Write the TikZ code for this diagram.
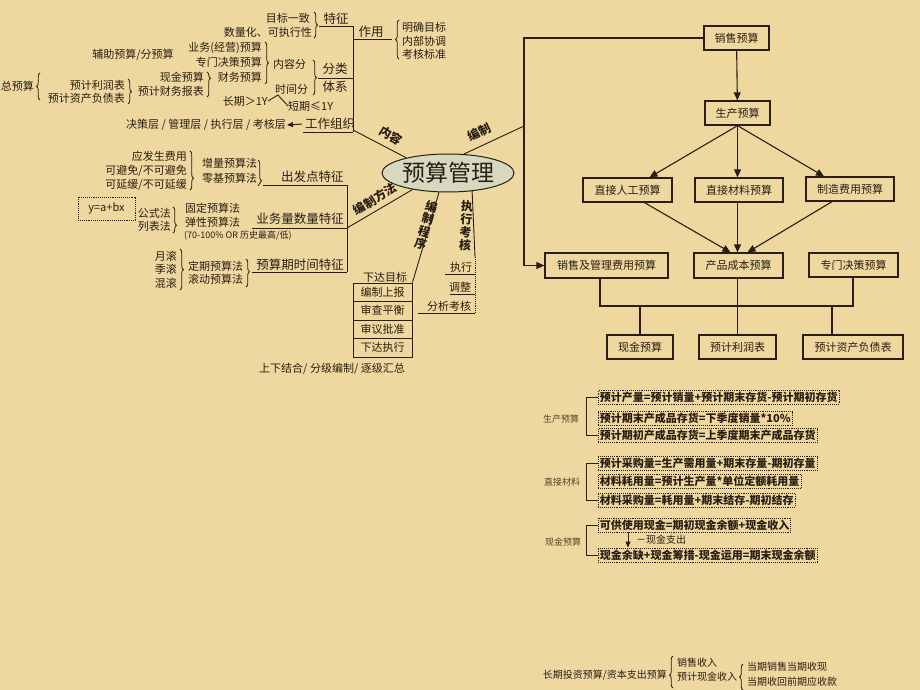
\documentclass[tikz,border=0pt]{standalone}
\usepackage{fontspec}
\setmainfont{Noto Sans CJK SC}
\usetikzlibrary{arrows.meta,decorations.pathreplacing,shapes.geometric}
\definecolor{bg}{RGB}{239,215,160}
\definecolor{ink}{RGB}{40,30,20}
\definecolor{ellfill}{RGB}{214,216,192}
\definecolor{soft}{RGB}{85,65,45}
\begin{document}
\begin{tikzpicture}[x=1pt,y=-1pt,
 every node/.style={inner sep=0pt, text=ink},
 t/.style={font=\fontsize{11}{12}\selectfont},
 ts/.style={font=\fontsize{10}{11}\selectfont},
 tx/.style={font=\fontsize{9}{10}\selectfont},
 hd/.style={font=\fontsize{12.5}{14}\selectfont},
 bl/.style={font=\bfseries\fontsize{12}{13}\selectfont},
 ln/.style={draw=ink, line width=0.9pt},
 brc/.style={draw=ink, line width=0.8pt, decorate, decoration={brace,amplitude=3.5pt,aspect=#1}},
 brc/.default=0.5,
 fbox/.style={draw=ink, line width=1.3pt, font=\fontsize{11}{12}\selectfont, minimum height=24pt},
 pbox/.style={draw=ink, line width=0.9pt, minimum width=59pt, minimum height=18.5pt, font=\fontsize{11}{12}\selectfont},
 arr/.style={draw=ink, line width=1.1pt, -{Triangle[length=8pt,width=7pt]}},
 fm/.style={draw=ink, line width=0.9pt, densely dotted, font=\bfseries\fontsize{11}{12}\selectfont, inner xsep=1.5pt, minimum height=14pt, anchor=west},
 lab/.style={font=\fontsize{9}{10}\selectfont, text=soft},
]
\fill[bg] (0,0) rectangle (920,690);
\useasboundingbox (0,0) rectangle (920,690);

% ---------- top-left: 内容 ----------
\node[t, anchor=east] (mbyz) at (310,18) {目标一致};
\node[t, anchor=east] (slh) at (312,32) {数量化、可执行性};
\draw[brc] (314,12) -- (314,38);
\node[hd] (tz) at (336,19) {特征};
\coordinate (v1) at (353,26);
\coordinate (v2) at (353,132);
\draw[ln] (319,26) -- (v1) -- (v2);
\node[hd] (zy) at (371,32) {作用};
\draw[ln] (353,39) -- (392,39);
\draw[brc] (399,59) -- (399,20);
\node[t, anchor=west] (mq) at (402,27) {明确目标};
\node[t, anchor=west] (nb) at (402,41) {内部协调};
\node[t, anchor=west] (kh) at (402,54) {考核标准};

\node[t] (fz) at (133,55) {辅助预算/分预算};
\node[t, anchor=east] (yw) at (262,48) {业务(经营)预算};
\node[t, anchor=east] (zm) at (262,62) {专门决策预算};
\node[t, anchor=east] (cw) at (262,77) {财务预算};
\draw[brc] (265,42) -- (265,84);
\node[t, anchor=west] (nrf) at (273,64) {内容分};
\node[t, anchor=west] (sjf) at (275,89) {时间分};
\draw[brc] (313,60) -- (313,95);
\draw[ln] (318,78) -- (353,78);
\node[hd] (fl) at (335,69) {分类};
\node[hd] (txi) at (335,87) {体系};
\node[t, anchor=east] (xj) at (204,77) {现金预算};
\node[t, anchor=east] (ycw) at (204,91) {预计财务报表};
\draw[brc=0.25] (207,72) -- (207,97);
\node[t, anchor=east] (zys) at (34,86) {总预算};
\draw[brc] (40,100) -- (40,73);
\node[t, anchor=east] (lrb) at (125,85) {预计利润表};
\node[t, anchor=east] (zcb) at (125,98) {预计资产负债表};
\draw[brc] (128,79) -- (128,104);
\node[t, anchor=east] (cq) at (268,101) {长期＞1Y};
\node[t, anchor=west] (dq) at (288,106) {短期≤1Y};
\coordinate (peak) at (278,95);
\draw[ln] (cq.east) -- (peak) -- (dq.west);
\node[t, anchor=east] (ceng) at (286,125) {决策层 / 管理层 / 执行层 / 考核层};
\node[hd, anchor=west] (gz) at (305,124) {工作组织};
\draw[ln] (303,132) -- (353,132);
\draw[draw=ink, line width=1pt, -{Triangle[length=6pt,width=5pt]}] ([xshift=-3pt]gz.west) -- ([xshift=1pt]ceng.east);

% ---------- centre ----------
\node[ellipse, draw=ink, line width=1pt, fill=ellfill, minimum width=132pt, minimum height=38pt, font=\fontsize{23}{26}\selectfont] (ell) at (448,173) {预算管理};
\draw[ln] (353,130) -- (ell.160);
\node[bl, rotate=-31] (lnr) at (391,136) {内容};
\coordinate (jn) at (524,126);
\draw[ln] (ell.50) -- (jn);
\node[bl, rotate=26] (lbz) at (479,132) {编制};
\coordinate (m2) at (347,228);
\draw[ln] (ell.205) -- (m2);
\node[bl, rotate=31] (lff) at (375,199) {编制方法};
\draw[ln] (347,185) -- (347,272);

% ---------- methods ----------
\node[hd, anchor=west] (cfd) at (281,177) {出发点特征};
\draw[ln] (263,185) -- (347,185);
\node[hd] (ywl) at (300,219) {业务量数量特征};
\draw[ln] (252,228) -- (m2);
\node[hd] (ysq) at (300,265) {预算期时间特征};
\draw[ln] (252,272) -- (347,272);
\node[t, anchor=west] (zl) at (202,163) {增量预算法};
\node[t, anchor=west] (lj) at (202,178) {零基预算法};
\draw[brc=0.8] (258,160) -- (258,186);
\node[t, anchor=east] (yfs) at (187,156) {应发生费用};
\node[t, anchor=east] (kbm) at (187,171) {可避免/不可避免};
\node[t, anchor=east] (kyh) at (187,185) {可延缓/不可延缓};
\draw[brc=0.7] (190,151) -- (190,190);
\node[draw=ink, densely dotted, line width=0.9pt, minimum width=57pt, minimum height=23pt, font=\fontsize{11}{12}\selectfont] (yab) at (106.5,208.5) {y=a+bx};
\node[t, anchor=east] (gsf) at (171,213) {公式法};
\node[t, anchor=east] (lbf) at (171,226) {列表法};
\draw[brc=0.7] (173,207) -- (173,233);
\node[t, anchor=west] (gd) at (185,208) {固定预算法};
\node[t, anchor=west] (tx2) at (185,222) {弹性预算法};
\node[tx, anchor=west] (bz) at (184,236) {(70-100\% OR 历史最高/低)};
\node[t, anchor=east] (yg) at (177,256) {月滚};
\node[t, anchor=east] (jg) at (177,269) {季滚};
\node[t, anchor=east] (hg) at (177,283) {混滚};
\draw[brc] (180,249) -- (180,290);
\node[t, anchor=west] (dqy) at (188,266) {定期预算法};
\node[t, anchor=west] (gdy) at (188,279) {滚动预算法};
\draw[brc=0.45] (246,259) -- (246,287);

% ---------- 编制程序 ----------
\node[t] (xdmb) at (385,277) {下达目标};
\node[pbox] (b1) at (382.5,292.25) {编制上报};
\node[pbox] (b2) at (382.5,310.75) {审查平衡};
\node[pbox] (b3) at (382.5,329.25) {审议批准};
\node[pbox] (b4) at (382.5,347.75) {下达执行};
\draw[ln] (ell.245) -- (b1.north east);
\node[bl, rotate=-16, align=center] (lcx) at (426,225) {编\\制\\程\\序};
\node[t] (sxjh) at (332,369) {上下结合/ 分级编制/ 逐级汇总};

% ---------- 执行考核 ----------
\coordinate (zx1) at (475,257);
\coordinate (zx2) at (475,313);
\draw[ln] (ell.323) -- (zx1);
\draw[draw=ink, line width=0.9pt, densely dotted] (zx1) -- (zx2);
\node[bl, rotate=-3, align=center] (lzk) at (466,226) {执\\行\\考\\核};
\node[t] (zx) at (461,267) {执行};
\draw[ln] (445,274) -- (475,274);
\node[t] (tzh) at (460,287) {调整};
\draw[ln] (450,294) -- (475,294);
\node[t] (fxkh) at (449,306) {分析考核};
\draw[ln] (418,313) -- (zx2);

% ---------- flowchart ----------
\node[fbox, minimum width=65pt] (sales) at (736.5,38) {销售预算};
\node[fbox, minimum width=65pt] (prod) at (737.5,113) {生产预算};
\node[fbox, minimum width=89pt] (labor) at (627.5,190) {直接人工预算};
\node[fbox, minimum width=88pt] (mat) at (739,190) {直接材料预算};
\node[fbox, minimum width=88pt] (ovh) at (850,189) {制造费用预算};
\node[fbox, minimum width=123pt, minimum height=25pt] (sga) at (606.5,265.5) {销售及管理费用预算};
\node[fbox, minimum width=89pt, minimum height=25pt] (cost) at (738.5,265.5) {产品成本预算};
\node[fbox, minimum width=89pt] (spec) at (853.5,265) {专门决策预算};
\node[fbox, minimum width=66pt] (cash) at (640,347) {现金预算};
\node[fbox, minimum width=77pt] (pl) at (737.5,347) {预计利润表};
\node[fbox, minimum width=100pt] (bs) at (853,347) {预计资产负债表};

\draw[arr] (sales) -- (prod);
\draw[arr] (prod.south) -- ([xshift=22pt]labor.north);
\draw[arr] (prod.south) -- (prod.south |- mat.north);
\draw[arr] (prod.south) -- ([xshift=-26pt]ovh.north);
\draw[arr] ([xshift=17pt]labor.south) -- ([xshift=-8pt]cost.north);
\draw[arr] (prod.south |- mat.south) -- (prod.south |- cost.north);
\draw[arr] ([xshift=-18pt]ovh.south) -- ([xshift=9pt]cost.north);
\draw[arr] (sales.west) -- (524,38) -- (jn) -- (524,265.5) -- (sga.west);
\coordinate (busL) at (600,306);
\coordinate (busR) at (853,306);
\draw[ln, line width=1.1pt] (sga.south -| busL) -- (busL) -- (busR) -- (spec.south -| busR);
\draw[ln, line width=1.1pt] (prod.south |- cost.south) -- (prod.south |- pl.north);
\draw[ln, line width=1.1pt] (cash.north |- busL) -- (cash.north);
\draw[ln, line width=1.1pt] (832,306) -- (832,335);

% ---------- formulas ----------
\node[fm] (f1) at (598,397) {预计产量=预计销量+预计期末存货-预计期初存货};
\node[fm] (f2) at (598,418.5) {预计期末产成品存货=下季度销量*10\%};
\node[fm] (f3) at (598,435.5) {预计期初产成品存货=上季度期末产成品存货};
\node[fm] (f4) at (598,463.5) {预计采购量=生产需用量+期末存量-期初存量};
\node[fm] (f5) at (598,481.5) {材料耗用量=预计生产量*单位定额耗用量};
\node[fm] (f6) at (598,500) {材料采购量=耗用量+期末结存-期初结存};
\node[fm] (f7) at (598,525) {可供使用现金=期初现金余额+现金收入};
\node[fm] (f8) at (598,555) {现金余缺+现金筹措-现金运用=期末现金余额};
\node[lab] (l1) at (561,419) {生产预算};
\node[lab] (l2) at (562,482) {直接材料};
\node[lab] (l3) at (563,542) {现金预算};
\draw[ln] (f1.west) -- ++(-12,0) |- (f3.west);
\draw[ln] (f4.west) -- ++(-12,0) |- (f6.west);
\draw[ln] (f7.west) -- ++(-12,0) |- (f8.west);
\draw[draw=ink, line width=1pt, -{Triangle[length=6pt,width=5pt]}] (f7.south -| 628,0) -- (f8.north -| 628,0);
\node[ts, anchor=west] (zc) at (636,540) {－现金支出};

% ---------- bottom ----------
\node[ts, anchor=east] (cqt) at (667,675) {长期投资预算/资本支出预算};
\draw[brc=0.4] (673,688) -- (673,656);
\node[ts, anchor=west] (xssr) at (677,663) {销售收入};
\node[ts, anchor=west] (ycsr) at (677,677) {预计现金收入};
\draw[brc] (743,690) -- (743,664);
\node[ts, anchor=west] (dq1) at (747,667) {当期销售当期收现};
\node[ts, anchor=west] (dq2) at (747,682) {当期收回前期应收款};
\end{tikzpicture}
\end{document}
